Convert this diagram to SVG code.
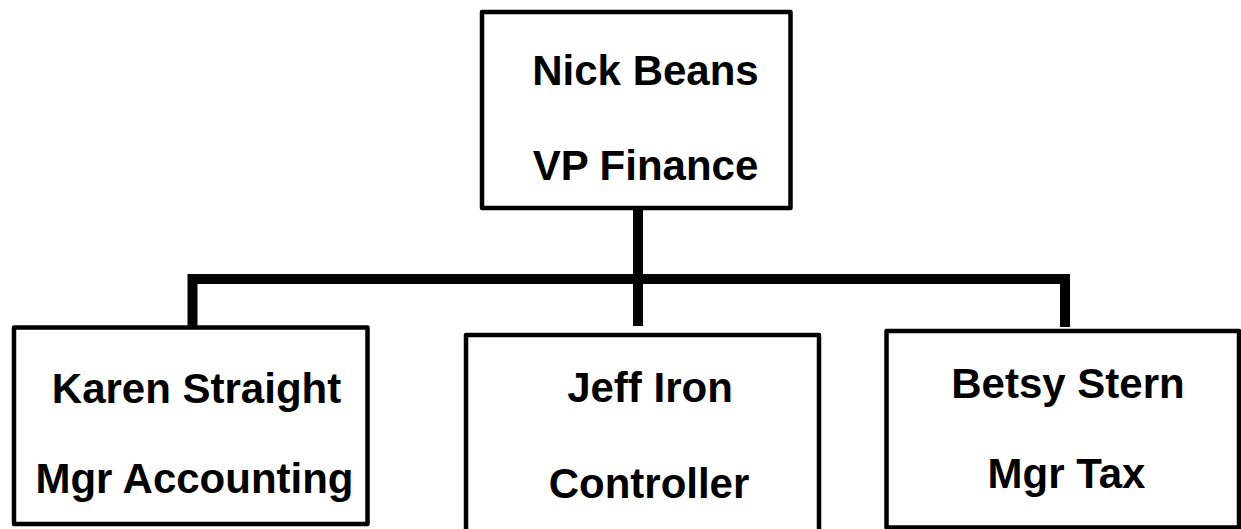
<svg xmlns="http://www.w3.org/2000/svg" width="1241" height="529" viewBox="0 0 1241 529">
<style>
.box{fill:#fff;stroke:#000;stroke-width:4.5;stroke-linejoin:round}
.lbl{font-family:"Liberation Sans",Arial,sans-serif;font-weight:bold;font-size:42px;fill:#000;text-anchor:middle}
.conn{fill:none;stroke:#000;stroke-width:10;stroke-linejoin:miter}
</style>
<rect width="1241" height="529" fill="#fff"/>
<g id="connectors">
<path class="conn" d="M638,209 V326"/>
<path class="conn" d="M192.5,328 V279 H1065 V327"/>
</g>
<g id="node-nick">
<rect class="box" x="482" y="12" width="308.5" height="196"/>
<text class="lbl" x="645.5" y="85">Nick Beans</text>
<text class="lbl" x="645.5" y="180">VP Finance</text>
</g>
<g id="node-karen">
<rect class="box" x="14" y="327.5" width="353.5" height="196.5"/>
<text class="lbl" x="196.5" y="403">Karen Straight</text>
<text class="lbl" x="194.5" y="493">Mgr Accounting</text>
</g>
<g id="node-jeff">
<rect class="box" x="466" y="335" width="353" height="205"/>
<text class="lbl" x="650" y="402">Jeff Iron</text>
<text class="lbl" x="649" y="498">Controller</text>
</g>
<g id="node-betsy">
<rect class="box" x="886.5" y="331" width="352.5" height="196.5"/>
<text class="lbl" x="1068" y="398">Betsy Stern</text>
<text class="lbl" x="1066.5" y="488">Mgr Tax</text>
</g>
</svg>
